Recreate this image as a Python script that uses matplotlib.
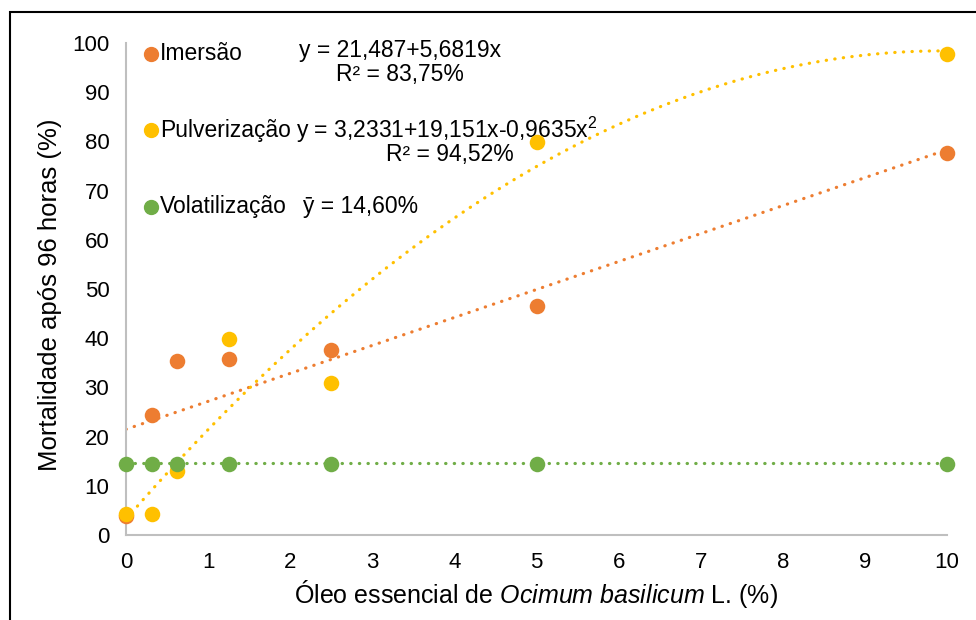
import numpy as np
import matplotlib.pyplot as plt
from matplotlib.patches import Rectangle

plt.rcParams['font.family'] = ['Liberation Sans', 'DejaVu Sans']
plt.rcParams['mathtext.fontset'] = 'custom'
plt.rcParams['mathtext.it'] = 'Liberation Sans:italic'
plt.rcParams['mathtext.rm'] = 'Liberation Sans'

# doses de óleo essencial (%)
doses = [0, 0.3125, 0.625, 1.25, 2.5, 5, 10]
imersao = [3.9, 24.4, 35.4, 35.8, 37.6, 46.5, 77.6]
pulverizacao = [4.3, 4.3, 13.0, 39.8, 30.9, 79.9, 97.8]
volatilizacao = [14.4, 14.4, 14.4, 14.4, 14.4, 14.4, 14.4]

# coeficientes das equações mostradas
coef_imersao = [21.487, 5.6819]
coef_pulv = [3.2331, 19.151, -0.9635]
media_vol = 14.60

nomes = ["Imersão", "Pulverização", "Volatilização"]
cores = ["#ED7D31", "#FFC000", "#70AD47"]

fig = plt.figure(figsize=(9.76, 6.2), dpi=100)
ax = fig.add_axes([126 / 976, 1 - 535 / 620, 821 / 976, 492 / 620])

xs = np.linspace(0, 10, 200)
dot = (0, (0.1, 2.6))
ax.plot(xs, coef_imersao[0] + coef_imersao[1] * xs, color=cores[0], lw=2.3,
        linestyle=dot, dash_capstyle="round", zorder=2)
ax.plot(xs, coef_pulv[0] + coef_pulv[1] * xs + coef_pulv[2] * xs ** 2, color=cores[1],
        lw=2.3, linestyle=dot, dash_capstyle="round", zorder=2)
ax.plot([0, 10], [media_vol, media_vol], color=cores[2], lw=2.3,
        linestyle=dot, dash_capstyle="round", zorder=2)

for i, serie in enumerate([imersao, pulverizacao, volatilizacao]):
    ax.scatter(doses, serie, s=125, color=cores[i], zorder=3 + i, linewidths=0, clip_on=False)

ax.set_xlim(0, 10)
ax.set_ylim(0, 100)
ax.set_xticks(range(0, 11))
ax.set_yticks(range(0, 101, 10))
ax.tick_params(length=0, labelsize=16, pad=12)
for s in ["top", "right"]:
    ax.spines[s].set_visible(False)
for s in ["left", "bottom"]:
    ax.spines[s].set_color("#BFBFBF")
    ax.spines[s].set_linewidth(1.5)

ax.set_xlabel("Óleo essencial de $\\mathit{Ocimum\\ basilicum}$ L. (%)", fontsize=18)
ax.set_ylabel("Mortalidade após 96 horas (%)", fontsize=18.5)
ax.xaxis.set_label_coords(0.5, (535 - 578) / 492)
ax.yaxis.set_label_coords((62 - 126) / 821, (535 - 295) / 492)

# legenda (marcador + nome) e equações
tr = ax.transAxes
def px(x, y):
    return (x - 126) / 821, (535 - y) / 492

for nome, cor, yy in zip(nomes, cores, [54, 130, 207]):
    mx, my = px(151, yy)
    ax.plot([mx], [my], "o", color=cor, markersize=10, transform=tr, clip_on=False, zorder=6)
    tx, ty = px(160, yy)
    ax.text(tx, ty, nome, transform=tr, ha="left", va="center", fontsize=16.5)

for txt, x, y in [("y = 21,487+5,6819x", 400, 50), ("R² = 83,75%", 400, 75),
                  ("y = 3,2331+19,151x-0,9635x$^{2}$", 447, 130), ("R² = 94,52%", 450, 155)]:
    tx, ty = px(x, y)
    ax.text(tx, ty, txt, transform=tr, ha="center", va="center", fontsize=16.5)
tx, ty = px(303, 207)
ax.text(tx, ty, "ȳ = 14,60%", transform=tr, ha="left", va="center", fontsize=16.5)

fig.patches.append(Rectangle((10 / 976, -0.5), 2, 0.5 + (1 - 12 / 620), transform=fig.transFigure,
                             fill=False, edgecolor="black", linewidth=1.5))

fig.savefig("out.png", dpi=100)
